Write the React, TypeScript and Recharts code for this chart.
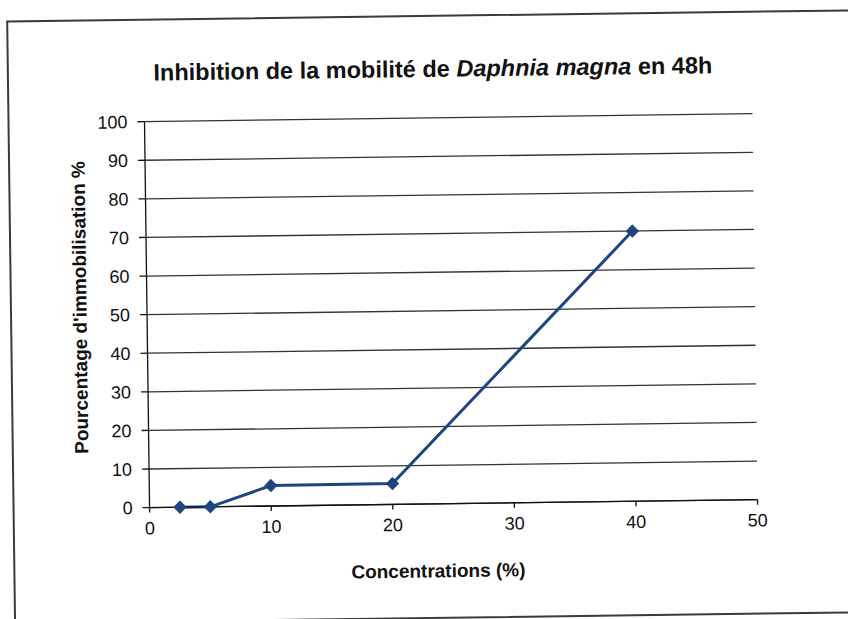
import React from "react";
import { LineChart, Line, XAxis, YAxis, CartesianGrid } from "recharts";

const concentrations = [2.5, 5, 10, 20, 40];
const immobilisation = [0, 0, 5.3, 5.4, 70];
const xTicks = [0, 10, 20, 30, 40, 50];
const yTicks = [0, 10, 20, 30, 40, 50, 60, 70, 80, 90, 100];

const data = concentrations.map((c, i) => ({ c, v: immobilisation[i] }));

const FONT = "'Liberation Sans', Arial, Helvetica, sans-serif";
const LINE = "#1f4581";

const Diamond = (props: any) => {
  const { cx, cy } = props;
  if (cx == null || cy == null) return null;
  const r = 6;
  return (
    <path
      d={`M${cx},${cy - r} L${cx + r},${cy} L${cx},${cy + r} L${cx - r},${cy} Z`}
      fill={LINE}
      stroke={LINE}
      strokeWidth={1}
    />
  );
};

export default function App() {
  return (
    <div
      style={{
        position: "fixed",
        left: 0,
        top: 0,
        width: 848,
        height: 619,
        background: "#fff",
        overflow: "hidden",
      }}
    >
      <div
        style={{
          position: "absolute",
          left: 0,
          top: 0,
          width: 848,
          height: 619,
          transform: "rotate(-0.75deg)",
          transformOrigin: "424px 310px",
        }}
      >
        <div
          style={{
            position: "absolute",
            left: 10,
            top: 15,
            width: 880,
            height: 604,
            border: "2px solid #3a3a3a",
            boxSizing: "border-box",
          }}
        />
        <div
          style={{
            position: "absolute",
            left: 12,
            top: 54,
            width: 848,
            textAlign: "center",
            fontFamily: FONT,
            fontWeight: "bold",
            fontSize: 23.5,
            lineHeight: "30px",
            color: "#111",
          }}
        >
          Inhibition de la mobilité de <i>Daphnia magna</i> en 48h
        </div>
        <div style={{ position: "absolute", left: 0, top: 0 }}>
          <LineChart
            width={848}
            height={619}
            data={data}
            margin={{ top: 118, right: 93, bottom: 55, left: 0 }}
          >
            <CartesianGrid vertical={false} stroke="#333" strokeWidth={1.3} />
            <XAxis
              dataKey="c"
              type="number"
              domain={[0, 50]}
              ticks={xTicks}
              height={60}
              stroke="#111"
              strokeWidth={1.3}
              tickSize={5}
              tickMargin={9}
              tick={{ fill: "#111", fontSize: 18, fontFamily: FONT }}
              label={{
                content: (p: any) => (
                  <text
                    x={435}
                    y={p.viewBox.y + 67}
                    textAnchor="middle"
                    dominantBaseline="central"
                    fontFamily={FONT}
                    fontWeight="bold"
                    fontSize={19}
                    fill="#111"
                  >
                    Concentrations (%)
                  </text>
                ),
              }}
            />
            <YAxis
              type="number"
              domain={[0, 100]}
              ticks={yTicks}
              width={147}
              stroke="#111"
              strokeWidth={1.3}
              tickSize={7}
              tickMargin={10}
              tick={{ fill: "#111", fontSize: 18, fontFamily: FONT }}
              label={{
                content: (p: any) => {
                  const cx = 80;
                  const cy = p.viewBox.y + p.viewBox.height / 2 - 8;
                  return (
                    <text
                      x={cx}
                      y={cy}
                      transform={`rotate(-90 ${cx} ${cy})`}
                      textAnchor="middle"
                      dominantBaseline="central"
                      fontFamily={FONT}
                      fontWeight="bold"
                      fontSize={19}
                      fill="#111"
                    >
                      Pourcentage d'immobilisation %
                    </text>
                  );
                },
              }}
            />
            <Line
              dataKey="v"
              stroke={LINE}
              strokeWidth={3}
              dot={<Diamond />}
              activeDot={false}
              isAnimationActive={false}
            />
          </LineChart>
        </div>
      </div>
    </div>
  );
}
